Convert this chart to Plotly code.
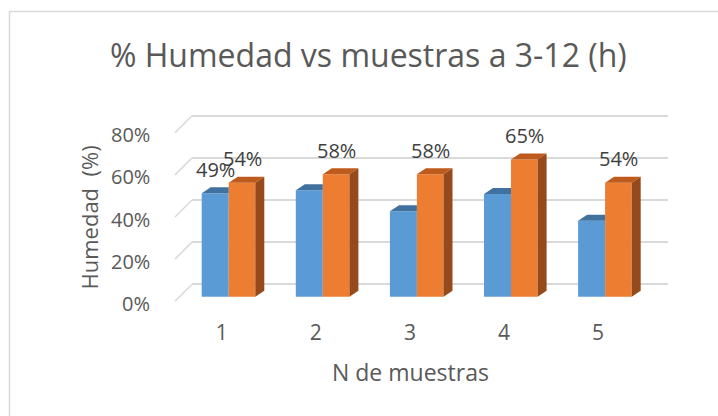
import plotly.graph_objects as go

# ---------------- data ----------------
categorias = ["1", "2", "3", "4", "5"]
serie_azul = [0.49, 0.505, 0.405, 0.487, 0.36]
serie_naranja = [0.54, 0.58, 0.58, 0.65, 0.54]
etiquetas_azul = ["49%", "", "", "", ""]
etiquetas_naranja = ["54%", "58%", "58%", "65%", "54%"]
y_ticks = [0, 0.2, 0.4, 0.6, 0.8]
y_tick_labels = ["0%", "20%", "40%", "60%", "80%"]
titulo = "% Humedad vs muestras a 3-12 (h)"
titulo_x = "N de muestras"
titulo_y = "Humedad  (%)"

# ---------------- geometry / style ----------------
W, H = 718, 416
FONT = "Open Sans, Lato, sans-serif"
TXT = "#595959"
X_DOM_PX = (192, 668)
PX_PER_CAT = 94.1
FIRST_CENTER_PX = 228.7
Y_DOM_PX = (310, 100)          # bottom, top (pixels from top)
BAR_ZERO_PX, BAR_SCALE = 296.7, 211.0
GRID_ZERO_PX, GRID_SCALE = 284.3, 210.75
BW_BLUE = 27.0 / PX_PER_CAT
BW_OR = 26.6 / PX_PER_CAT
DX = 9.0 / PX_PER_CAT
DY = 6.0 / BAR_SCALE

C_BLUE, C_BLUE_TOP = "#5B9BD5", "#41729F"
C_OR, C_OR_TOP, C_OR_SIDE = "#ED7D31", "#BE5B1C", "#964A1C"

xpos = [i + 1 for i in range(len(categorias))]

x_r0 = 1 - (FIRST_CENTER_PX - X_DOM_PX[0]) / PX_PER_CAT
x_r1 = x_r0 + (X_DOM_PX[1] - X_DOM_PX[0]) / PX_PER_CAT
y_bar_range = [-(Y_DOM_PX[0] - BAR_ZERO_PX) / BAR_SCALE, (BAR_ZERO_PX - Y_DOM_PX[1]) / BAR_SCALE]
y_grid_range = [-(Y_DOM_PX[0] - GRID_ZERO_PX) / GRID_SCALE, (GRID_ZERO_PX - Y_DOM_PX[1]) / GRID_SCALE]

fig = go.Figure()

# front faces
fig.add_trace(go.Bar(x=xpos, y=serie_azul, width=BW_BLUE, offset=-BW_BLUE,
                     marker=dict(color=C_BLUE, line=dict(width=0)), name="azul",
                     hovertemplate="%{y:.0%}<extra></extra>"))
fig.add_trace(go.Bar(x=xpos, y=serie_naranja, width=BW_OR, offset=0,
                     marker=dict(color=C_OR, line=dict(width=0)), name="naranja",
                     hovertemplate="%{y:.0%}<extra></extra>"))

# 3D faces computed from data
def poly(points_list):
    xs, ys = [], []
    for pts in points_list:
        for (a, b) in pts:
            xs.append(a); ys.append(b)
        xs.append(pts[0][0]); ys.append(pts[0][1])
        xs.append(None); ys.append(None)
    return xs, ys

blue_top = []
for x, v in zip(xpos, serie_azul):
    x0, x1 = x - BW_BLUE, x
    blue_top.append([(x0, v), (x1, v), (x1, v + DY), (x0 + DX, v + DY)])
or_top, or_side = [], []
for x, v in zip(xpos, serie_naranja):
    x0, x1 = x, x + BW_OR
    or_top.append([(x0, v), (x1, v), (x1 + DX, v + DY), (x0 + DX, v + DY)])
    or_side.append([(x1, 0), (x1, v), (x1 + DX, v + DY), (x1 + DX, DY)])

for pts, col in [(blue_top, C_BLUE_TOP), (or_top, C_OR_TOP), (or_side, C_OR_SIDE)]:
    xs, ys = poly(pts)
    fig.add_trace(go.Scatter(x=xs, y=ys, mode="lines", fill="toself", fillcolor=col,
                             line=dict(width=0, color=col), hoverinfo="skip", showlegend=False))

# dummy trace on grid axis
fig.add_trace(go.Scatter(x=[xpos[0]], y=[0], yaxis="y2", mode="markers",
                         marker=dict(opacity=0), hoverinfo="skip", showlegend=False))

annotations = []
LBL = dict(family=FONT, size=20, color="#404040")
# data labels
for x, v, t in zip(xpos, serie_azul, etiquetas_azul):
    if t:
        annotations.append(dict(x=x - BW_BLUE / 2, y=v, xref="x", yref="y", text=t, showarrow=False,
                                xanchor="center", yanchor="middle", yshift=24, font=LBL))
for x, v, t in zip(xpos, serie_naranja, etiquetas_naranja):
    if t:
        annotations.append(dict(x=x + BW_OR / 2, y=v, xref="x", yref="y", text=t, showarrow=False,
                                xanchor="center", yanchor="middle", yshift=24, font=LBL))
# front tick labels
for v, t in zip(y_ticks, y_tick_labels):
    annotations.append(dict(x=152 / W, y=v, xref="paper", yref="y2", text=t, showarrow=False,
                            xanchor="right", yanchor="middle", yshift=-19,
                            font=dict(family=FONT, size=20, color=TXT)))
# titles
annotations.append(dict(x=368 / W, y=1 - 55 / H, xref="paper", yref="paper", text=titulo,
                        xanchor="center", yanchor="middle",
                        showarrow=False, font=dict(family=FONT, size=32, color=TXT)))
annotations.append(dict(x=410 / W, y=1 - 372 / H, xref="paper", yref="paper", text=titulo_x,
                        xanchor="center", yanchor="middle",
                        showarrow=False, font=dict(family=FONT, size=23, color=TXT)))
annotations.append(dict(x=88 / W, y=1 - 217.5 / H, xref="paper", yref="paper", text=titulo_y,
                        xanchor="center", yanchor="middle",
                        textangle=-90, showarrow=False, font=dict(family=FONT, size=22, color=TXT)))

shapes = []
# floor/wall diagonals
for v in y_ticks:
    shapes.append(dict(type="line", xref="paper", yref="y2", x0=175 / W, x1=192 / W,
                       y0=v - 17 / GRID_SCALE, y1=v, line=dict(color="#d9d9d9", width=1.5), layer="below"))
# chart border
shapes.append(dict(type="rect", xref="paper", yref="paper", x0=9.5 / W, x1=1.05, y0=-0.05,
                   y1=1 - 11.5 / H, line=dict(color="#d9d9d9", width=1.5), layer="below"))

fig.update_layout(
    width=W, height=H, autosize=False,
    margin=dict(l=0, r=0, t=0, b=0, pad=0),
    paper_bgcolor="white", plot_bgcolor="white",
    showlegend=False, barmode="overlay",
    xaxis=dict(domain=[X_DOM_PX[0] / W, X_DOM_PX[1] / W], range=[x_r0, x_r1],
               tickvals=xpos, ticktext=categorias, showgrid=False, zeroline=False, showline=False,
               ticks="", ticklabelshift=-7, ticklabelstandoff=8,
               tickfont=dict(family=FONT, size=21, color=TXT)),
    yaxis=dict(domain=[1 - Y_DOM_PX[0] / H, 1 - Y_DOM_PX[1] / H], range=y_bar_range,
               showgrid=False, zeroline=False, showticklabels=False, showline=False),
    yaxis2=dict(overlaying="y", anchor="x", range=y_grid_range, tickvals=y_ticks,
                showgrid=True, gridcolor="#d9d9d9", gridwidth=1.5, zeroline=False,
                showticklabels=False, showline=False),
    annotations=annotations, shapes=shapes,
)

fig.write_html("out.html", config={"displayModeBar": False},
               post_script="document.body.style.margin='0';document.body.style.padding='0';")
